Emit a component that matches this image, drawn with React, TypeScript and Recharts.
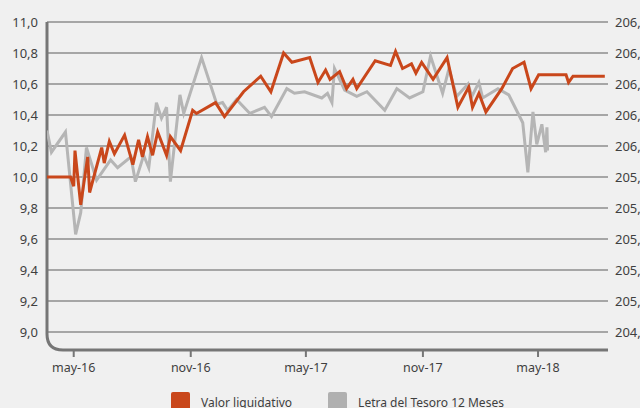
import React from "react";
import {
  CartesianGrid,
  ComposedChart,
  Line,
  XAxis,
  YAxis,
  usePlotArea,
} from "recharts";

// Valor liquidativo (left axis)
const navDates = [
  "2016-03-20", "2016-04-26", "2016-05-01", "2016-05-03", "2016-05-12", "2016-05-23",
  "2016-05-26", "2016-06-14", "2016-06-18", "2016-06-26", "2016-07-04", "2016-07-20",
  "2016-08-02", "2016-08-11", "2016-08-17", "2016-08-25", "2016-09-02", "2016-09-10",
  "2016-09-24", "2016-09-30", "2016-10-16", "2016-11-04", "2016-11-10", "2016-12-10",
  "2016-12-24", "2017-01-23", "2017-02-19", "2017-03-07", "2017-03-27", "2017-04-09",
  "2017-05-07", "2017-05-20", "2017-06-01", "2017-06-08", "2017-06-23", "2017-07-04",
  "2017-07-14", "2017-07-20", "2017-08-18", "2017-09-11", "2017-09-19", "2017-09-30",
  "2017-10-14", "2017-10-21", "2017-10-30", "2017-11-17", "2017-12-09", "2017-12-26",
  "2018-01-12", "2018-01-18", "2018-01-28", "2018-02-08", "2018-03-05", "2018-03-22",
  "2018-04-09", "2018-04-20", "2018-05-02", "2018-06-14", "2018-06-18", "2018-06-25",
  "2018-08-14",
];
const navValues = [
  10.0, 10.0, 9.94, 10.17, 9.82, 10.13,
  9.9, 10.19, 10.09, 10.23, 10.15, 10.27,
  10.08, 10.24, 10.13, 10.26, 10.14, 10.29,
  10.14, 10.26, 10.17, 10.43, 10.41, 10.48,
  10.39, 10.55, 10.65, 10.55, 10.8, 10.74,
  10.77, 10.61, 10.69, 10.63, 10.68, 10.57,
  10.63, 10.57, 10.75, 10.72, 10.81, 10.7,
  10.73, 10.67, 10.74, 10.63, 10.77, 10.45,
  10.58, 10.45, 10.54, 10.42, 10.57, 10.7,
  10.74, 10.57, 10.66, 10.66, 10.61, 10.65,
  10.65,
];

// Letra del Tesoro 12 Meses (right axis)
const letraDates = [
  "2016-03-20", "2016-03-27", "2016-04-18", "2016-05-04", "2016-05-12", "2016-05-21",
  "2016-06-06", "2016-06-28", "2016-07-09", "2016-07-30", "2016-08-06", "2016-08-19",
  "2016-08-27", "2016-09-08", "2016-09-16", "2016-09-24", "2016-09-30", "2016-10-15",
  "2016-10-21", "2016-11-18", "2016-12-12", "2016-12-21", "2016-12-29", "2017-01-12",
  "2017-02-02", "2017-02-25", "2017-03-08", "2017-04-01", "2017-04-13", "2017-04-29",
  "2017-05-26", "2017-06-04", "2017-06-11", "2017-06-15", "2017-07-01", "2017-07-20",
  "2017-08-05", "2017-09-02", "2017-09-21", "2017-10-11", "2017-11-01", "2017-11-13",
  "2017-12-02", "2017-12-12", "2017-12-24", "2018-01-11", "2018-01-17", "2018-01-28",
  "2018-02-03", "2018-02-27", "2018-03-16", "2018-04-07", "2018-04-15", "2018-04-23",
  "2018-04-29", "2018-05-07", "2018-05-13", "2018-05-15", "2018-05-16",
];
const letraValues = [
  206.1, 205.96, 206.09, 205.43, 205.57, 205.99,
  205.78, 205.91, 205.86, 205.93, 205.77, 205.94,
  205.86, 206.28, 206.18, 206.25, 205.77, 206.33,
  206.21, 206.57, 206.27, 206.28, 206.23, 206.3,
  206.21, 206.25, 206.19, 206.37, 206.34, 206.35,
  206.31, 206.34, 206.28, 206.5, 206.36, 206.32,
  206.35, 206.23, 206.37, 206.31, 206.35, 206.58,
  206.34, 206.5, 206.32, 206.4, 206.32, 206.41,
  206.31, 206.37, 206.33, 206.15, 205.83, 206.22,
  206.01, 206.14, 205.96, 206.12, 205.97,
];

const leftTicks = [9.0, 9.2, 9.4, 9.6, 9.8, 10.0, 10.2, 10.4, 10.6, 10.8, 11.0];
const rightTicks = [204.8, 205.0, 205.2, 205.4, 205.6, 205.8, 206.0, 206.2, 206.4, 206.6, 206.8];
const dateTicks = ["2016-05-01", "2016-11-01", "2017-05-01", "2017-11-01", "2018-05-01"];
const dateDomain = ["2016-03-20", "2018-08-19"];
const monthNames = ["ene", "feb", "mar", "abr", "may", "jun", "jul", "ago", "sep", "oct", "nov", "dic"];

const ORANGE = "#C9471B";
const GREY = "#B5B5B5";
const AXIS_COLOR = "#767676";
const TEXT = "#3f3f3f";
const FONT = "'Noto Sans', sans-serif";

const navRows = navDates.map((d, i) => ({ t: Date.parse(d), v: navValues[i] }));
const letraRows = letraDates.map((d, i) => ({ t: Date.parse(d), v: letraValues[i] }));

const comma = (v: number) => v.toFixed(1).replace(".", ",");
const monthLabel = (t: number) => {
  const d = new Date(t);
  return `${monthNames[d.getUTCMonth()]}-${String(d.getUTCFullYear()).slice(2)}`;
};

// left axis line bending into the bottom axis, as in the source
function AxisFrame() {
  const area = usePlotArea();
  if (!area) return null;
  const { x, y, width, height } = area;
  const bottom = y + height + 18;
  const r = 16;
  return (
    <path
      d={`M${x},${y} V${bottom - r} Q${x},${bottom} ${x + r},${bottom} H${x + width}`}
      fill="none"
      stroke={AXIS_COLOR}
      strokeWidth={3}
    />
  );
}

function DateTick({ x, y, payload }: any) {
  return (
    <g>
      <line x1={x} x2={x} y1={y + 18} y2={y + 25} stroke={AXIS_COLOR} strokeWidth={2} />
      <text x={x} y={y + 40} textAnchor="middle" fontSize={12.5} fill={TEXT} fontFamily={FONT}>
        {monthLabel(payload.value)}
      </text>
    </g>
  );
}

const legendItems = [
  { name: "Valor liquidativo", color: ORANGE },
  { name: "Letra del Tesoro 12 Meses", color: "#B0B0B0" },
];

export default function App() {
  return (
    <div
      style={{
        position: "absolute",
        left: 0,
        top: 0,
        width: 640,
        height: 408,
        background: "#F0F0F0",
        overflow: "hidden",
        fontFamily: FONT,
      }}
    >
      <ComposedChart
        width={640}
        height={408}
        margin={{ top: 22, right: 0, left: 0, bottom: 0 }}
      >
        <CartesianGrid
          vertical={false}
          yAxisId="left"
          stroke="#8E8E8E"
          strokeWidth={1.3}
        />
        <XAxis
          dataKey="t"
          type="number"
          scale="time"
          domain={dateDomain.map((d) => Date.parse(d))}
          ticks={dateTicks.map((d) => Date.parse(d))}
          allowDataOverflow
          axisLine={false}
          tickLine={false}
          tickSize={0}
          tickMargin={0}
          height={76}
          tick={<DateTick />}
        />
        <YAxis
          yAxisId="left"
          domain={[9, 11]}
          ticks={leftTicks}
          tickFormatter={comma}
          axisLine={false}
          tickLine={false}
          tickSize={0}
          tickMargin={9}
          width={47}
          tick={{ fontSize: 13, fill: TEXT, fontFamily: FONT }}
        />
        <YAxis
          yAxisId="right"
          orientation="right"
          domain={[204.8, 206.8]}
          ticks={rightTicks}
          tickFormatter={comma}
          axisLine={false}
          tickLine={false}
          tickSize={0}
          tickMargin={7}
          width={32}
          tick={{ fontSize: 13, fill: TEXT, fontFamily: FONT, textAnchor: "start" }}
        />
        <AxisFrame />
        <Line
          data={letraRows}
          yAxisId="right"
          dataKey="v"
          type="linear"
          stroke={GREY}
          strokeWidth={3}
          dot={false}
          isAnimationActive={false}
        />
        <Line
          data={navRows}
          yAxisId="left"
          dataKey="v"
          type="linear"
          stroke={ORANGE}
          strokeWidth={3}
          dot={false}
          isAnimationActive={false}
        />
      </ComposedChart>

      <div
        style={{
          position: "absolute",
          left: 171,
          top: 392,
          display: "flex",
          gap: 36,
          fontSize: 12,
          color: TEXT,
        }}
      >
        {legendItems.map((it) => (
          <div key={it.name} style={{ display: "flex", alignItems: "flex-start", gap: 11 }}>
            <span
              style={{ width: 19, height: 19, background: it.color, borderRadius: 2, flexShrink: 0 }}
            />
            <span style={{ lineHeight: "19px", marginTop: 1, whiteSpace: "nowrap" }}>{it.name}</span>
          </div>
        ))}
      </div>
    </div>
  );
}
